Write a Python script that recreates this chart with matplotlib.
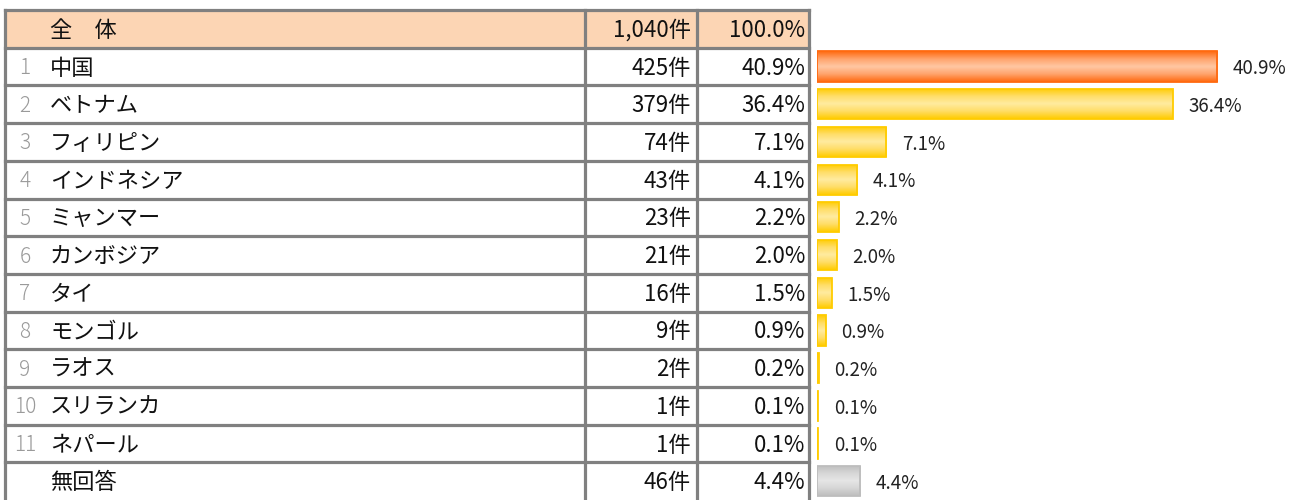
import numpy as np
import matplotlib
matplotlib.use("Agg")
import matplotlib.pyplot as plt
from matplotlib.colors import LinearSegmentedColormap

plt.rcParams['font.family'] = ['Noto Sans CJK JP', 'DejaVu Sans']

# data
total_label = "全　体"
total_count = "1,040件"
total_pct = "100.0%"
ranks = ["1", "2", "3", "4", "5", "6", "7", "8", "9", "10", "11", ""]
countries = ["中国", "ベトナム", "フィリピン", "インドネシア", "ミャンマー", "カンボジア",
             "タイ", "モンゴル", "ラオス", "スリランカ", "ネパール", "無回答"]
counts = [425, 379, 74, 43, 23, 21, 16, 9, 2, 1, 1, 46]
percents = [40.9, 36.4, 7.1, 4.1, 2.2, 2.0, 1.5, 0.9, 0.2, 0.1, 0.1, 4.4]
styles = ["top"] + ["normal"] * 10 + ["na"]

# layout (pixels)
W, H = 1297, 500
top, pitch = 10, 37.7
col_x = [5, 585, 697, 809]
bar_x0 = 817
px_per_pct = 9.78
border = "#808080"
header_fill = "#FCD5B4"

fig = plt.figure(figsize=(W / 100, H / 100), dpi=100)
ax = fig.add_axes([0, 0, 1, 1])
ax.set_xlim(0, W)
ax.set_ylim(H, 0)
ax.axis("off")

n_rows = len(countries) + 1
# header fill
ax.fill_between([col_x[0], col_x[-1]], top, top + pitch, color=header_fill, zorder=0)
# horizontal lines
for k in range(n_rows):
    y = top + k * pitch
    ax.plot([col_x[0], col_x[-1]], [y, y], color=border, lw=2.3, solid_capstyle="projecting", zorder=2)
# vertical lines
for x in col_x:
    ax.plot([x, x], [top, H + 5], color=border, lw=2.3, solid_capstyle="projecting", zorder=2)

fs = 16
def row_y(i):
    return top + pitch * (i + 0.5) + 1.5

ax.text(50, row_y(0), total_label, fontsize=fs, va="center", ha="left", color="#111")
ax.text(col_x[2] - 6, row_y(0), total_count, fontsize=fs, va="center", ha="right", color="#111")
ax.text(col_x[3] - 4, row_y(0), total_pct, fontsize=fs, va="center", ha="right", color="#111")

for i, (r, c, n, p) in enumerate(zip(ranks, countries, counts, percents), start=1):
    y = row_y(i)
    ax.text(25, y, r, fontsize=fs - 1, va="center", ha="center", color="#9a9a9a", fontweight="light")
    ax.text(50, y, c, fontsize=fs, va="center", ha="left", color="#111")
    ax.text(col_x[2] - 6, y, f"{n}件", fontsize=fs, va="center", ha="right", color="#111")
    ax.text(col_x[3] - 4, y, f"{p:.1f}%", fontsize=fs, va="center", ha="right", color="#111")

# bar axes
bx = fig.add_axes([bar_x0 / W, 0, (W - bar_x0) / W, 1])
bx.axis("off")
xmax = (W - bar_x0) / px_per_pct
ylo = (H - top) / pitch - 0.5
yhi = (0 - top) / pitch - 0.5

cmaps = {
    "top": (LinearSegmentedColormap.from_list("o", ["#FF6A10", "#FFA36B", "#FFC7A3", "#FFA36B", "#FF6A10"]), "#FF6A10"),
    "normal": (LinearSegmentedColormap.from_list("y", ["#FFCC00", "#FFDD66", "#FFEBA0", "#FFDD66", "#FFCC00"]), "#FFCC00"),
    "na": (LinearSegmentedColormap.from_list("g", ["#BDBDBD", "#D6D6D6", "#E6E6E6", "#D6D6D6", "#BDBDBD"]), "#BDBDBD"),
}

ypos = np.arange(1, len(percents) + 1)
bars = bx.barh(ypos, percents, height=0.8, color="none")
grad = np.linspace(0, 1, 64).reshape(-1, 1)
for bar, st, p, y in zip(bars, styles, percents, ypos):
    cmap, edge = cmaps[st]
    x0, yb = bar.get_x(), bar.get_y()
    w, h = bar.get_width(), bar.get_height()
    im = bx.imshow(grad, cmap=cmap, aspect="auto", extent=(x0, x0 + w, yb + h, yb),
                   interpolation="bilinear", zorder=1)
    im.set_clip_path(bar)
    bar.set_edgecolor(edge)
    bar.set_linewidth(1.3)
    bar.set_zorder(2)
    bx.text(p + 1.6, y + 0.06, f"{p:.1f}%", fontsize=13.5, va="center", ha="left", color="#222")

bx.set_xlim(0, xmax)
bx.set_ylim(ylo, yhi)

fig.savefig("out.png", dpi=100)
